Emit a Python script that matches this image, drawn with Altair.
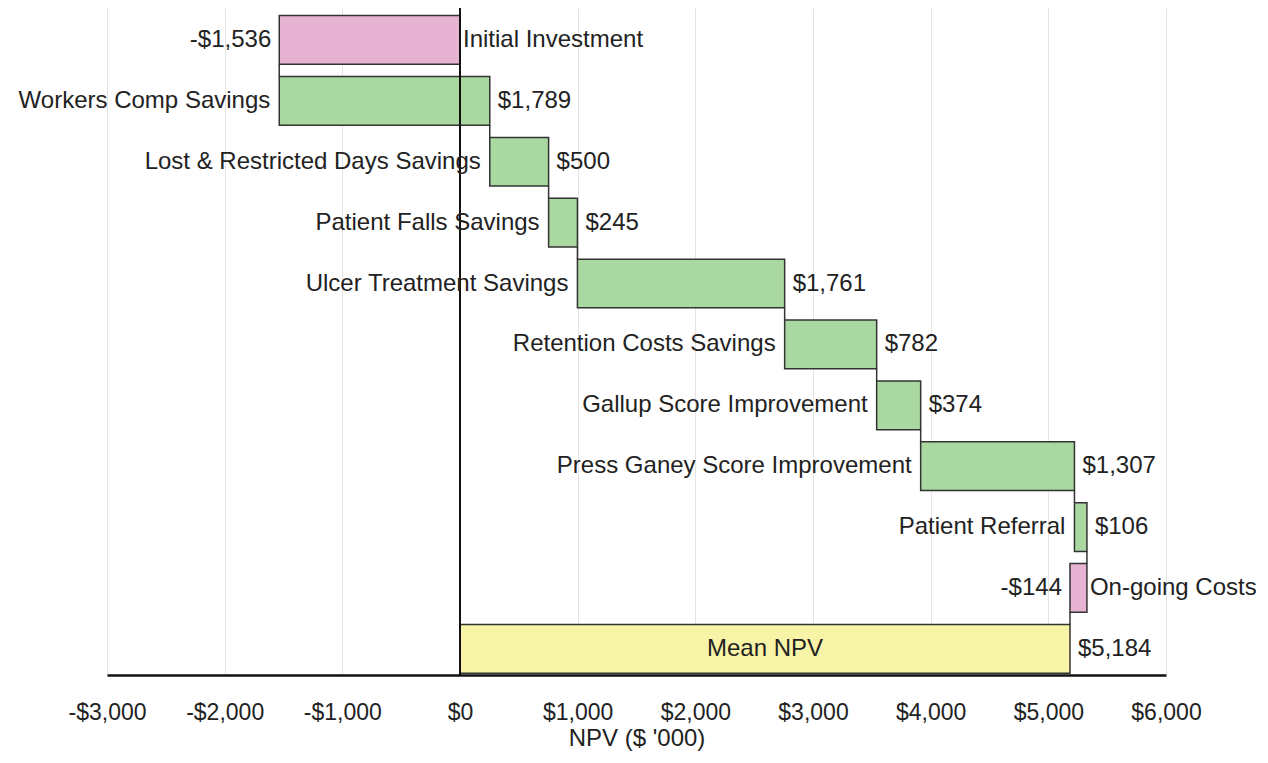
import altair as alt
import pandas as pd

names = ["Initial Investment", "Workers Comp Savings", "Lost & Restricted Days Savings",
         "Patient Falls Savings", "Ulcer Treatment Savings", "Retention Costs Savings",
         "Gallup Score Improvement", "Press Ganey Score Improvement", "Patient Referral",
         "On-going Costs"]
values = [-1536, 1789, 500, 245, 1761, 782, 374, 1307, 106, -144]
total_name = "Mean NPV"
total_value = 5184
x_ticks = [-3000, -2000, -1000, 0, 1000, 2000, 3000, 4000, 5000, 6000]

HALF = 0.4

def fmt(v):
    return ("-$" if v < 0 else "$") + f"{abs(v):,}"

rows = []
cum = 0
for i, (n, v) in enumerate(zip(names, values)):
    start, end = cum, cum + v
    cum = end
    rows.append(dict(name=n, value=v, label=fmt(v), start=start, end=end,
                     lo=min(start, end), hi=max(start, end), mid=(start + end) / 2,
                     row=i, top=i - HALF, bot=i + HALF, nexttop=i + 1 - HALF,
                     kind="neg" if v < 0 else "pos"))
n = len(names)
rows.append(dict(name=total_name, value=total_value, label=fmt(total_value), start=0,
                 end=total_value, lo=0, hi=total_value, mid=total_value / 2, row=n,
                 top=n - HALF, bot=n + HALF, nexttop=n + 1 - HALF, kind="total"))
df = pd.DataFrame(rows)

FONT = "Liberation Sans"

xscale = alt.Scale(domain=[-3000, 6000], nice=False, zero=False)
yscale = alt.Scale(domain=[-0.525, 10.43], nice=False, zero=False, reverse=True)

base = alt.Chart(df)

bars = base.mark_bar(stroke="#333333", strokeWidth=1.5).encode(
    x=alt.X("start:Q", scale=xscale,
            axis=alt.Axis(values=x_ticks, title="NPV ($ '000)", grid=True,
                          gridColor="#e4e4e4", gridWidth=1, tickSize=0,
                          labelPadding=26, titlePadding=2,
                          labelFlush=False, labelOverlap=False,
                          domainColor="#111", domainWidth=2.5,
                          labelFontSize=23, titleFontSize=24, labelColor="#222",
                          titleColor="#222", titleFontWeight="normal",
                          labelExpr="datum.value < 0 ? '-$' + format(-datum.value, ',') : '$' + format(datum.value, ',')")),
    x2="end:Q",
    y=alt.Y("top:Q", scale=yscale, axis=None),
    y2="bot:Q",
    color=alt.Color("kind:N", legend=None,
                    scale=alt.Scale(domain=["neg", "pos", "total"],
                                    range=["#e7b3d3", "#a9d8a1", "#f8f4a7"])),
)

zero = alt.Chart(pd.DataFrame({"z": [0]})).mark_rule(color="#111", strokeWidth=2).encode(
    x=alt.X("z:Q", scale=xscale))

connectors = base.transform_filter(alt.datum.row < n).mark_rule(
    color="#333333", strokeWidth=1.5).encode(
    x=alt.X("end:Q", scale=xscale), y=alt.Y("bot:Q", scale=yscale), y2="nexttop:Q")

tb = dict(fontSize=24, font=FONT, color="#222", baseline="middle")

pos_name = base.transform_filter(alt.datum.kind == "pos").mark_text(
    align="right", dx=-9, **tb).encode(
    x=alt.X("lo:Q", scale=xscale), y=alt.Y("row:Q", scale=yscale), text="name:N")
pos_val = base.transform_filter(alt.datum.kind != "neg").mark_text(
    align="left", dx=8, **tb).encode(
    x=alt.X("hi:Q", scale=xscale), y=alt.Y("row:Q", scale=yscale), text="label:N")
neg_val = base.transform_filter(alt.datum.kind == "neg").mark_text(
    align="right", dx=-8, **tb).encode(
    x=alt.X("lo:Q", scale=xscale), y=alt.Y("row:Q", scale=yscale), text="label:N")
neg_name = base.transform_filter(alt.datum.kind == "neg").mark_text(
    align="left", dx=3, **tb).encode(
    x=alt.X("hi:Q", scale=xscale), y=alt.Y("row:Q", scale=yscale), text="name:N")
tot_name = base.transform_filter(alt.datum.kind == "total").mark_text(
    align="center", **tb).encode(
    x=alt.X("mid:Q", scale=xscale), y=alt.Y("row:Q", scale=yscale), text="name:N")

chart = alt.layer(bars, zero, connectors, pos_name, pos_val, neg_val, neg_name, tot_name).properties(
    width=1059, height=667, autosize="none",
    padding={"left": 99, "top": 0, "right": 90, "bottom": 80},
).configure(font=FONT).configure_view(stroke=None)

chart.save("out.html", embed_options={"renderer": "svg", "actions": False})
